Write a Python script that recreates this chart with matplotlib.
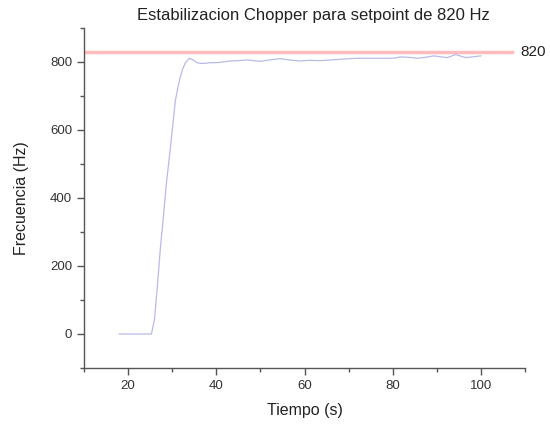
import matplotlib
matplotlib.use("Agg")
import matplotlib.pyplot as plt
from matplotlib.ticker import MultipleLocator

plt.rcParams['font.family'] = ['Liberation Sans', 'DejaVu Sans']

# data
tiempo = [18, 19, 20, 21, 22, 23, 24, 25, 25.3, 26.0, 26.7, 27.3, 28.0, 28.7,
          29.5, 30.1, 30.7, 31.3, 31.8, 32.4, 33.0, 33.9, 34.8, 35.6, 36.4,
          37.5, 38.6, 40, 41.5, 43.2, 45, 47, 48.5, 50, 52, 54.5, 56.5, 59,
          61, 63.6, 66, 68.2, 70.5, 72, 74, 76, 78, 80, 81.8, 83.5, 85.6,
          87.5, 89.3, 91, 92.4, 94.3, 95.5, 96.6, 98, 100]
frecuencia = [0, 0, 0, 0, 0, 0, 0, 0, 0, 45, 150, 250, 345, 445, 538, 610, 685,
              725, 754, 780, 798, 811, 806, 798, 796, 796, 798, 798, 800, 803,
              804, 806, 804, 802, 806, 810, 806, 803, 805, 804, 806, 808, 810,
              811, 811, 811, 811, 811, 815, 814, 811, 814, 818, 815, 813, 822,
              817, 813, 815, 818]
setpoint_label = "820"
setpoint_linea = 830  # where the line sits in the picture
linea_x = [10, 107]

fig = plt.figure(figsize=(5.5, 4.24), dpi=100)
ax = fig.add_axes([84/550, 1-368/424, (525-84)/550, (368-28)/424])

ax.plot(linea_x, [setpoint_linea, setpoint_linea], color='#ffbcbc', lw=2.5)
ax.plot(tiempo, frecuencia, color='#b8bae8', lw=0.9)
ax.text(109, setpoint_linea, setpoint_label, fontsize=11, va='center',
        ha='left', color='#222222', clip_on=False)

ax.set_xlim(10, 110)
ax.set_ylim(-100, 900)
ax.xaxis.set_major_locator(MultipleLocator(20))
ax.xaxis.set_minor_locator(MultipleLocator(10))
ax.yaxis.set_major_locator(MultipleLocator(200))
ax.yaxis.set_minor_locator(MultipleLocator(100))

for s in ['top', 'right']:
    ax.spines[s].set_visible(False)
for s in ['left', 'bottom']:
    ax.spines[s].set_color('#555555')
    ax.spines[s].set_linewidth(1.0)
ax.tick_params(which='major', length=5, width=1, color='#555555',
               labelsize=9.5, labelcolor='#333333')
ax.tick_params(which='minor', length=3, width=1, color='#555555')

ax.set_title("Estabilizacion Chopper para setpoint de 820 Hz", fontsize=12,
             color='#222222', pad=6, x=0.52)
ax.set_xlabel("Tiempo (s)", fontsize=11.5, color='#222222', labelpad=8)
ax.set_ylabel("Frecuencia (Hz)", fontsize=11.5, color='#222222', labelpad=15)

fig.savefig("out.png", dpi=100)
